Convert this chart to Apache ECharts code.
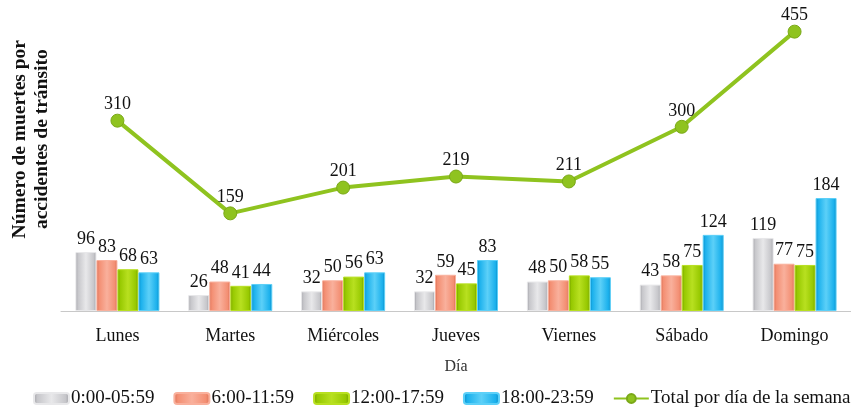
<!DOCTYPE html>
<html><head><meta charset="utf-8">
<script src="https://cdn.jsdelivr.net/npm/echarts@6/dist/echarts.min.js"></script>
<style>html,body{margin:0;padding:0;background:#fff}#c{width:851px;height:408px}</style>
</head><body><div id="c"></div>
<script>
var categories = ['Lunes','Martes','Miércoles','Jueves','Viernes','Sábado','Domingo'];
var seriesNames = ['0:00-05:59','6:00-11:59','12:00-17:59','18:00-23:59','Total por día de la semana'];
var s0 = [96,26,32,32,48,43,119];
var s1 = [83,48,50,59,50,58,77];
var s2 = [68,41,56,45,58,75,75];
var s3 = [63,44,63,83,55,124,184];
var total = [310,159,201,219,211,300,455];

var FONT = '"Liberation Serif", "DejaVu Serif", serif';
function grad(light, mid, dark){
  return new echarts.graphic.LinearGradient(0,0,1,0,[
    {offset:0,color:dark},{offset:0.12,color:mid},{offset:0.5,color:light},{offset:0.88,color:mid},{offset:1,color:dark}]);
}
var colors = [
  {l:'#e8e8ea', m:'#c6c6ca', d:'#9c9ca2'},
  {l:'#f9b09c', m:'#f38e72', d:'#d36a50'},
  {l:'#b8e020', m:'#96c800', d:'#6f9800'},
  {l:'#5cd0f8', m:'#1ab0ec', d:'#0a86c0'}
];
var barData = [s0,s1,s2,s3];
var series = barData.map(function(d,i){
  return {
    name: seriesNames[i], type:'bar', data:d, barWidth:21, barGap:'0%',
    itemStyle:{color:grad(colors[i].l,colors[i].m,colors[i].d), borderColor:colors[i].l, borderWidth:1},
    label:{show:true, position:'top', distance:4, color:'#111', fontFamily:FONT, fontSize:18}
  };
});
series.push({
  name: seriesNames[4], type:'line', data: total,
  lineStyle:{color:'#8fc31f', width:4},
  itemStyle:{color:'#8fc31f', borderColor:'#7aa818', borderWidth:1},
  symbol:'circle', symbolSize:13,
  label:{show:true, position:'top', distance:0, color:'#111', fontFamily:FONT, fontSize:18}
});

var chart = echarts.init(document.getElementById('c'));
chart.setOption({
  animation:false,
  color: colors.map(function(c){return c.m;}).concat(['#8fc31f']),
  grid:{left:61, top:4, width:798, height:307, containLabel:false},
  xAxis:{type:'category', data:categories,
    axisLine:{lineStyle:{color:'#c8c8c8', width:1}}, axisTick:{show:false},
    axisLabel:{color:'#111', fontFamily:FONT, fontSize:18, margin:16},
    name:'Día', nameLocation:'middle', nameGap:48,
    nameTextStyle:{color:'#333', fontFamily:FONT, fontSize:16}
  },
  yAxis:{type:'value', min:0, max:500, show:false},
  legend:{top:389, left:33, width:840, padding:0, itemWidth:35, itemHeight:11, itemGap:19,
    textStyle:{color:'#111', fontFamily:FONT, fontSize:19, padding:[0,0,0,-3]},
    data:seriesNames},
  graphic:[{type:'text', left:9, top:40, rotation:Math.PI/2,
    style:{text:'Número de muertes por\naccidentes de tránsito', fill:'#111', font:'bold 19.5px '+FONT, textAlign:'center', lineHeight:22}}],
  series: series
});
</script></body></html>
